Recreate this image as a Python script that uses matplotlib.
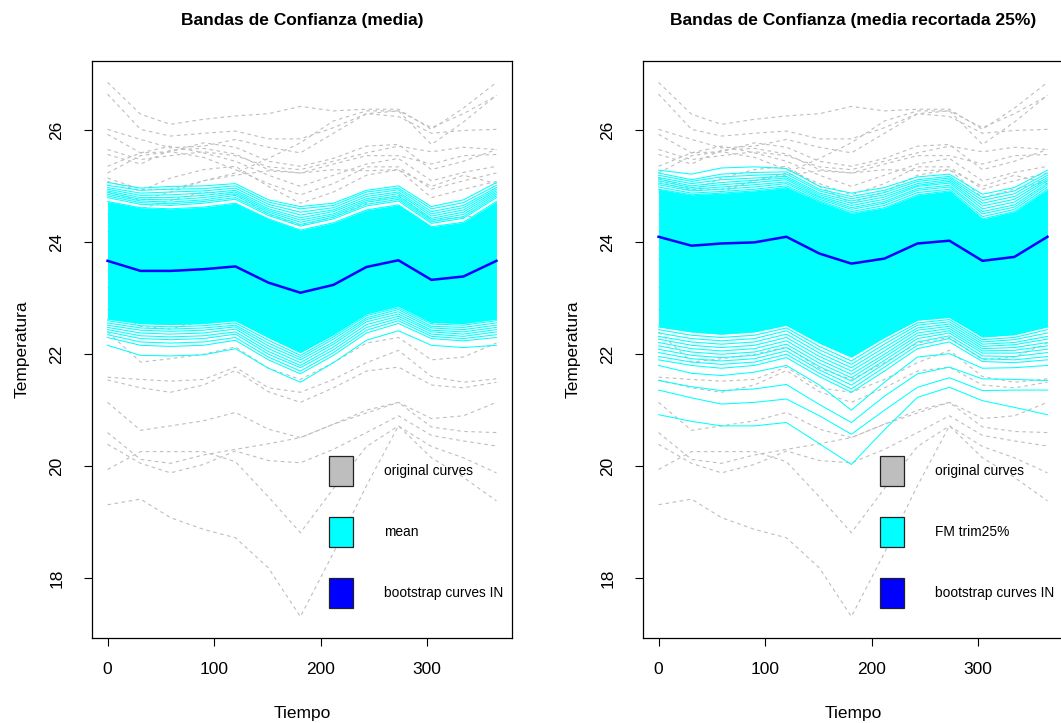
import matplotlib
matplotlib.use("Agg")
import matplotlib.pyplot as plt
from matplotlib.patches import Patch

plt.rcParams['font.family'] = ['Liberation Sans', 'DejaVu Sans']

# ---------------- data ----------------
TIEMPO = [0, 31, 59, 90, 120, 151, 181, 212, 243, 273, 304, 334, 365]
XTICKS = [0, 100, 200, 300]
YTICKS = [18, 20, 22, 24, 26]

TITLES = ["Bandas de Confianza (media)", "Bandas de Confianza (media recortada 25%)"]
LEGEND_LABELS = [["original curves", "mean", "bootstrap curves IN"],
                 ["original curves", "FM trim25%", "bootstrap curves IN"]]
XLABEL = "Tiempo"
YLABEL = "Temperatura"

# original curves (grey dashed)
ORIGINAL = [
    [26.86, 26.29, 26.11, 26.20, 26.26, 26.30, 26.43, 26.35, 26.38, 26.38, 26.02, 26.40, 26.86],
    [26.65, 26.02, 25.90, 25.95, 25.99, 25.85, 25.85, 26.05, 26.30, 26.35, 25.75, 26.15, 26.63],
    [26.02, 25.84, 25.69, 25.72, 25.84, 25.70, 25.60, 25.95, 26.30, 26.25, 25.95, 26.00, 26.02],
    [25.93, 25.60, 25.62, 25.78, 25.70, 25.45, 25.36, 25.50, 25.72, 25.75, 25.30, 25.45, 25.66],
    [25.66, 25.48, 25.55, 25.62, 25.55, 25.35, 25.30, 25.45, 25.60, 25.72, 25.62, 25.70, 25.66],
    [25.57, 25.40, 25.65, 25.68, 25.58, 25.30, 25.24, 25.40, 25.55, 25.55, 25.40, 25.55, 25.57],
    [25.36, 25.60, 25.72, 25.60, 25.45, 25.20, 25.00, 25.20, 25.40, 25.50, 25.10, 25.25, 25.36],
    [25.24, 25.55, 25.62, 25.52, 25.30, 25.05, 24.85, 25.05, 25.35, 25.35, 24.95, 25.10, 25.24],
    [25.09, 24.92, 25.15, 25.30, 25.36, 25.00, 24.70, 24.90, 25.20, 25.30, 24.80, 24.95, 25.09],
    [25.15, 24.95, 24.95, 25.10, 25.24, 25.50, 25.78, 26.17, 26.35, 26.35, 26.05, 26.30, 26.62],
    [24.90, 24.75, 24.90, 25.10, 25.20, 25.28, 25.24, 25.30, 25.28, 25.30, 25.00, 25.20, 25.05],
    [24.50, 24.60, 24.75, 24.90, 24.85, 24.50, 24.30, 24.45, 24.70, 24.85, 24.40, 24.45, 24.50],
    [24.20, 24.10, 24.30, 24.40, 24.45, 24.05, 23.80, 24.00, 24.30, 24.40, 24.00, 24.10, 24.20],
    [23.70, 23.55, 23.60, 23.65, 23.70, 23.30, 23.10, 23.30, 23.60, 23.75, 23.35, 23.40, 23.70],
    [23.20, 23.00, 23.05, 23.10, 23.20, 22.80, 22.60, 22.85, 23.20, 23.30, 22.90, 22.95, 23.20],
    [22.80, 22.50, 22.45, 22.60, 22.80, 22.40, 22.20, 22.45, 22.85, 22.95, 22.55, 22.60, 22.80],
    [22.40, 21.86, 21.92, 22.00, 22.13, 21.75, 21.55, 21.85, 22.20, 22.30, 21.90, 21.95, 22.20],
    [21.59, 21.55, 21.52, 21.55, 21.77, 21.40, 21.32, 21.55, 21.85, 22.07, 21.60, 21.50, 21.56],
    [21.54, 21.40, 21.32, 21.45, 21.71, 21.33, 21.14, 21.40, 21.70, 21.77, 21.45, 21.40, 21.50],
    [21.14, 20.64, 20.72, 20.81, 20.96, 20.66, 20.51, 20.75, 20.95, 21.14, 20.85, 20.90, 21.14],
    [20.60, 20.12, 20.05, 20.20, 20.30, 20.40, 20.51, 20.75, 21.00, 21.14, 20.70, 20.62, 20.60],
    [20.39, 20.05, 19.88, 20.03, 20.27, 20.10, 20.06, 20.30, 20.60, 20.90, 20.55, 20.45, 20.36],
    [19.94, 20.26, 20.26, 20.26, 20.08, 19.45, 18.81, 19.60, 20.35, 20.72, 20.35, 20.15, 19.88],
    [19.31, 19.41, 19.08, 18.87, 18.72, 18.18, 17.31, 18.45, 19.65, 20.72, 20.15, 19.80, 19.38],
]

# ---- left panel: bootstrap of the mean ----
MEAN_CENTER = [23.67, 23.49, 23.49, 23.52, 23.57, 23.28, 23.10, 23.24, 23.56, 23.68, 23.33, 23.39, 23.67]
MEAN_DENSE_TOP = [24.73, 24.62, 24.60, 24.63, 24.70, 24.42, 24.22, 24.35, 24.58, 24.67, 24.28, 24.36, 24.73]
MEAN_DENSE_BOT = [22.63, 22.55, 22.53, 22.55, 22.60, 22.30, 22.03, 22.35, 22.72, 22.86, 22.57, 22.55, 22.63]
MEAN_UPPER = [
    [25.07, 24.97, 25.00, 25.01, 25.05, 24.76, 24.64, 24.70, 24.93, 25.01, 24.64, 24.76, 25.07],
    [25.02, 24.93, 24.95, 24.96, 25.01, 24.72, 24.60, 24.66, 24.90, 24.97, 24.60, 24.71, 25.02],
    [24.98, 24.88, 24.90, 24.92, 24.97, 24.68, 24.54, 24.62, 24.86, 24.94, 24.55, 24.66, 24.98],
    [24.95, 24.84, 24.85, 24.88, 24.93, 24.64, 24.49, 24.58, 24.82, 24.90, 24.51, 24.62, 24.95],
    [24.92, 24.80, 24.80, 24.84, 24.90, 24.60, 24.44, 24.55, 24.78, 24.87, 24.47, 24.58, 24.92],
    [24.89, 24.77, 24.76, 24.80, 24.87, 24.57, 24.40, 24.51, 24.75, 24.83, 24.43, 24.54, 24.89],
    [24.86, 24.74, 24.72, 24.76, 24.84, 24.54, 24.36, 24.48, 24.72, 24.80, 24.40, 24.50, 24.86],
    [24.83, 24.71, 24.69, 24.73, 24.80, 24.51, 24.32, 24.45, 24.68, 24.77, 24.37, 24.46, 24.83],
    [24.80, 24.68, 24.66, 24.70, 24.77, 24.48, 24.29, 24.42, 24.65, 24.74, 24.34, 24.43, 24.80],
]
MEAN_LOWER = [
    [22.60, 22.51, 22.49, 22.51, 22.56, 22.25, 21.98, 22.31, 22.69, 22.83, 22.54, 22.52, 22.60],
    [22.56, 22.47, 22.45, 22.47, 22.52, 22.20, 21.94, 22.27, 22.65, 22.80, 22.50, 22.48, 22.56],
    [22.52, 22.43, 22.41, 22.43, 22.49, 22.15, 21.90, 22.22, 22.62, 22.76, 22.47, 22.44, 22.52],
    [22.48, 22.38, 22.36, 22.38, 22.45, 22.10, 21.85, 22.18, 22.58, 22.72, 22.43, 22.40, 22.48],
    [22.44, 22.33, 22.31, 22.33, 22.40, 22.05, 21.80, 22.13, 22.53, 22.68, 22.40, 22.36, 22.44],
    [22.40, 22.28, 22.26, 22.28, 22.36, 22.00, 21.76, 22.08, 22.48, 22.64, 22.36, 22.32, 22.40],
    [22.35, 22.22, 22.20, 22.22, 22.30, 21.95, 21.70, 22.03, 22.43, 22.60, 22.32, 22.28, 22.35],
    [22.30, 22.16, 22.14, 22.16, 22.25, 21.90, 21.65, 21.98, 22.38, 22.55, 22.28, 22.24, 22.30],
    [22.16, 21.98, 21.97, 21.99, 22.10, 21.75, 21.50, 21.85, 22.25, 22.42, 22.16, 22.12, 22.16],
]

# ---- right panel: bootstrap of the 25% trimmed mean ----
TRIM_CENTER = [24.10, 23.94, 23.98, 24.00, 24.10, 23.80, 23.62, 23.71, 23.98, 24.03, 23.67, 23.74, 24.10]
TRIM_DENSE_TOP = [24.95, 24.85, 24.88, 24.92, 24.98, 24.72, 24.52, 24.62, 24.85, 24.92, 24.42, 24.55, 24.95]
TRIM_DENSE_BOT = [22.49, 22.40, 22.36, 22.40, 22.52, 22.20, 21.95, 22.30, 22.61, 22.66, 22.31, 22.35, 22.49]
TRIM_UPPER = [
    [25.29, 25.22, 25.33, 25.35, 25.32, 25.00, 24.88, 24.98, 25.17, 25.22, 24.86, 24.98, 25.29],
    [25.24, 25.12, 25.22, 25.25, 25.26, 24.95, 24.82, 24.93, 25.12, 25.18, 24.80, 24.92, 25.24],
    [25.20, 25.09, 25.17, 25.20, 25.22, 24.92, 24.78, 24.89, 25.09, 25.15, 24.75, 24.87, 25.20],
    [25.16, 25.05, 25.12, 25.15, 25.18, 24.88, 24.74, 24.85, 25.05, 25.12, 24.70, 24.82, 25.16],
    [25.13, 25.01, 25.07, 25.11, 25.15, 24.85, 24.70, 24.81, 25.02, 25.09, 24.65, 24.77, 25.13],
    [25.10, 24.98, 25.03, 25.07, 25.12, 24.82, 24.66, 24.77, 25.00, 25.06, 24.60, 24.72, 25.10],
    [25.06, 24.95, 24.99, 25.03, 25.08, 24.80, 24.62, 24.73, 24.96, 25.02, 24.55, 24.67, 25.06],
    [25.03, 24.92, 24.95, 24.99, 25.05, 24.77, 24.59, 24.70, 24.93, 24.99, 24.51, 24.63, 25.03],
    [24.99, 24.88, 24.91, 24.95, 25.01, 24.74, 24.55, 24.66, 24.89, 24.95, 24.46, 24.59, 24.99],
]
TRIM_LOWER = [
    [22.44, 22.34, 22.30, 22.34, 22.47, 22.14, 21.88, 22.24, 22.56, 22.62, 22.26, 22.30, 22.44],
    [22.38, 22.28, 22.24, 22.28, 22.42, 22.08, 21.82, 22.18, 22.52, 22.58, 22.22, 22.26, 22.38],
    [22.32, 22.22, 22.18, 22.22, 22.36, 22.02, 21.76, 22.12, 22.47, 22.54, 22.18, 22.21, 22.32],
    [22.27, 22.16, 22.12, 22.16, 22.30, 21.96, 21.70, 22.06, 22.43, 22.50, 22.14, 22.17, 22.27],
    [22.21, 22.10, 22.06, 22.10, 22.24, 21.90, 21.64, 22.00, 22.38, 22.46, 22.10, 22.12, 22.21],
    [22.15, 22.04, 22.00, 22.04, 22.18, 21.84, 21.58, 21.95, 22.33, 22.42, 22.06, 22.07, 22.15],
    [22.09, 21.98, 21.94, 21.98, 22.12, 21.78, 21.52, 21.89, 22.28, 22.38, 22.02, 22.02, 22.09],
    [22.03, 21.92, 21.88, 21.92, 22.06, 21.72, 21.45, 21.83, 22.22, 22.33, 21.97, 21.96, 22.03],
    [21.96, 21.86, 21.82, 21.86, 22.00, 21.66, 21.38, 21.77, 22.16, 22.28, 21.92, 21.90, 21.96],
    [21.90, 21.80, 21.75, 21.80, 21.94, 21.60, 21.32, 21.70, 22.10, 22.22, 21.87, 21.85, 21.90],
    [21.80, 21.66, 21.62, 21.68, 21.80, 21.45, 21.00, 21.50, 21.95, 22.01, 21.75, 21.76, 21.80],
    [21.53, 21.42, 21.35, 21.38, 21.46, 21.10, 20.78, 21.25, 21.65, 21.77, 21.56, 21.55, 21.53],
    [21.36, 21.22, 21.11, 21.14, 21.20, 20.90, 20.57, 21.00, 21.41, 21.58, 21.35, 21.36, 21.36],
    [20.92, 20.80, 20.72, 20.72, 20.78, 20.40, 20.03, 20.65, 21.23, 21.41, 21.17, 21.05, 20.92],
]

# ---------------- style ----------------
GREY = "#BEBEBE"
CYAN = "#00FFFF"
BLUE = "#0000FF"
W, H = 1061, 723
FS_TICK = 12.5
FS_TITLE = 12.5
FS_LEG = 9.9
LEG_PX = FS_LEG * 100 / 72  # legend font size in pixels

fig = plt.figure(figsize=(W / 100, H / 100), dpi=100)


def px_axes(x0, x1, y0, y1):
    return fig.add_axes([x0 / W, 1 - y1 / H, (x1 - x0) / W, (y1 - y0) / H])


def panel(ax, center, dense_top, dense_bot, upper, lower, title, labels):
    for c in ORIGINAL:
        ax.plot(TIEMPO, c, color=GREY, lw=0.8, ls=(0, (3.2, 3.2)), zorder=1)
    ax.fill_between(TIEMPO, dense_bot, dense_top, color=CYAN, lw=0, zorder=2)
    for c in upper + lower + [dense_top, dense_bot]:
        ax.plot(TIEMPO, c, color=CYAN, lw=0.75, zorder=2)
    ax.plot(TIEMPO, center, color=BLUE, lw=1.8, zorder=3)

    allv = [v for c in ORIGINAL for v in c]
    lo, hi = min(allv), max(allv)
    r = hi - lo
    ax.set_ylim(lo - 0.04 * r, hi + 0.04 * r)
    ax.set_xlim(TIEMPO[0] - 0.04 * (TIEMPO[-1] - TIEMPO[0]),
                TIEMPO[-1] + 0.04 * (TIEMPO[-1] - TIEMPO[0]))
    ax.set_xticks(XTICKS)
    ax.set_yticks(YTICKS)
    ax.tick_params(direction='out', length=6, width=0.8, labelsize=FS_TICK, color='black')
    ax.tick_params(axis='x', pad=11)
    ax.tick_params(axis='y', pad=14, labelrotation=90)
    for lab in ax.get_yticklabels():
        lab.set_va('center')
    for s in ax.spines.values():
        s.set_linewidth(0.9)
        s.set_color('black')

    ax.set_title(title, fontsize=FS_TITLE, fontweight='bold', y=1.071, va='center', pad=0)
    ax.set_xlabel(XLABEL, fontsize=FS_TICK, va='center')
    ax.xaxis.set_label_coords(0.5, -0.130)
    ax.set_ylabel(YLABEL, fontsize=FS_TICK, va='center')
    ax.yaxis.set_label_coords(-0.1667, 0.5)

    handles = [Patch(facecolor=GREY, edgecolor='#222222', lw=0.9),
               Patch(facecolor=CYAN, edgecolor='#222222', lw=0.9),
               Patch(facecolor=BLUE, edgecolor='#222222', lw=0.9)]
    hh = (30 / LEG_PX - 0.245) / 0.65
    ax.legend(handles, labels, loc='upper left', bbox_to_anchor=((329 - 92) / 420, (638 - 456) / 577),
              frameon=False, fontsize=FS_LEG, handlelength=24 / LEG_PX, handleheight=hh,
              labelspacing=31 / LEG_PX, handletextpad=31 / LEG_PX, borderpad=0, borderaxespad=0)


ax1 = px_axes(92, 512, 61, 638)
ax2 = px_axes(643, 1063, 61, 638)
panel(ax1, MEAN_CENTER, MEAN_DENSE_TOP, MEAN_DENSE_BOT, MEAN_UPPER, MEAN_LOWER, TITLES[0], LEGEND_LABELS[0])
panel(ax2, TRIM_CENTER, TRIM_DENSE_TOP, TRIM_DENSE_BOT, TRIM_UPPER, TRIM_LOWER, TITLES[1], LEGEND_LABELS[1])

fig.savefig("out.png", dpi=100)
